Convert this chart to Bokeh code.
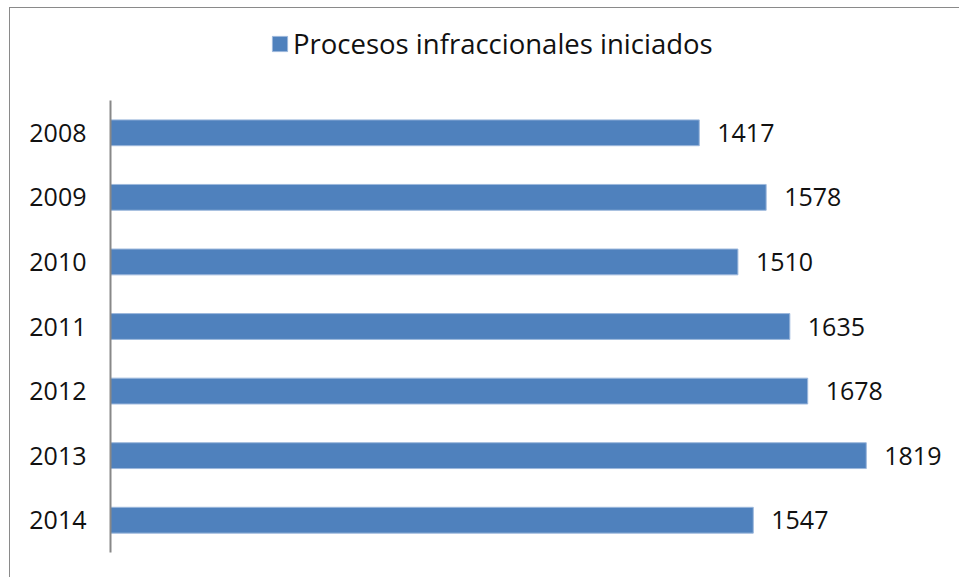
from bokeh.plotting import figure
from bokeh.models import Range1d, Legend, LegendItem, ColumnDataSource, LabelSet, FixedTicker
from bokeh.core.properties import value
from bokeh.embed import file_html
from bokeh.resources import INLINE

years = ["2008", "2009", "2010", "2011", "2012", "2013", "2014"]
values = [1417, 1578, 1510, 1635, 1678, 1819, 1547]
series_name = "Procesos infraccionales iniciados"

FONT = "Open Sans"
FS = "25px"
BAR = "#4F81BD"

n = len(years)
pos = [n - 1 - i for i in range(n)]  # 2008 on top

src = ColumnDataSource(dict(y=pos, year=years, value=values, label=[str(v) for v in values]))

p = figure(width=950, height=570, output_backend="svg", toolbar_location=None,
           y_range=Range1d(-0.5, 7.925),
           x_range=Range1d(0, 2000),
           min_border_left=100, min_border_right=19, min_border_top=0, min_border_bottom=26,
           styles={"margin-left": "9px", "margin-top": "7px",
                   "border-left": "1px solid #8a8a8a", "border-top": "1px solid #8a8a8a"})

r = p.hbar(y="y", left=0, right="value", height=0.4, source=src,
           fill_color=BAR, line_color="#9db8dc", line_width=1)

labels = LabelSet(x="value", y="y", text="label", source=src, x_offset=18,
                  text_baseline="middle", text_align="left",
                  text_font=value(FONT), text_font_size=FS, text_color="#111111")
p.add_layout(labels)

p.xaxis.visible = False
p.xgrid.visible = False
p.ygrid.visible = False
p.outline_line_color = None

ax = p.yaxis[0]
ax.ticker = FixedTicker(ticks=pos)
ax.major_label_overrides = {pp: yy for pp, yy in zip(pos, years)}
ax.bounds = (-0.5, n - 0.5)
ax.major_tick_line_color = None
ax.minor_tick_line_color = None
ax.major_tick_out = 0
ax.major_tick_in = 0
ax.axis_line_color = "#888888"
ax.axis_line_width = 2
ax.major_label_text_font = FONT
ax.major_label_text_font_size = FS
ax.major_label_text_color = "#111111"
ax.major_label_standoff = 24

legend = Legend(items=[LegendItem(label=series_name, renderers=[r])],
                location=(160, 490), orientation="horizontal",
                glyph_width=19, glyph_height=19, label_height=15,
                label_standoff=4, padding=0, spacing=0, margin=0,
                border_line_color=None, background_fill_alpha=0,
                label_text_font=FONT, label_text_font_size="27.5px", label_text_color="#111111")
p.add_layout(legend)

open("out.html", "w").write(file_html(p, INLINE))
